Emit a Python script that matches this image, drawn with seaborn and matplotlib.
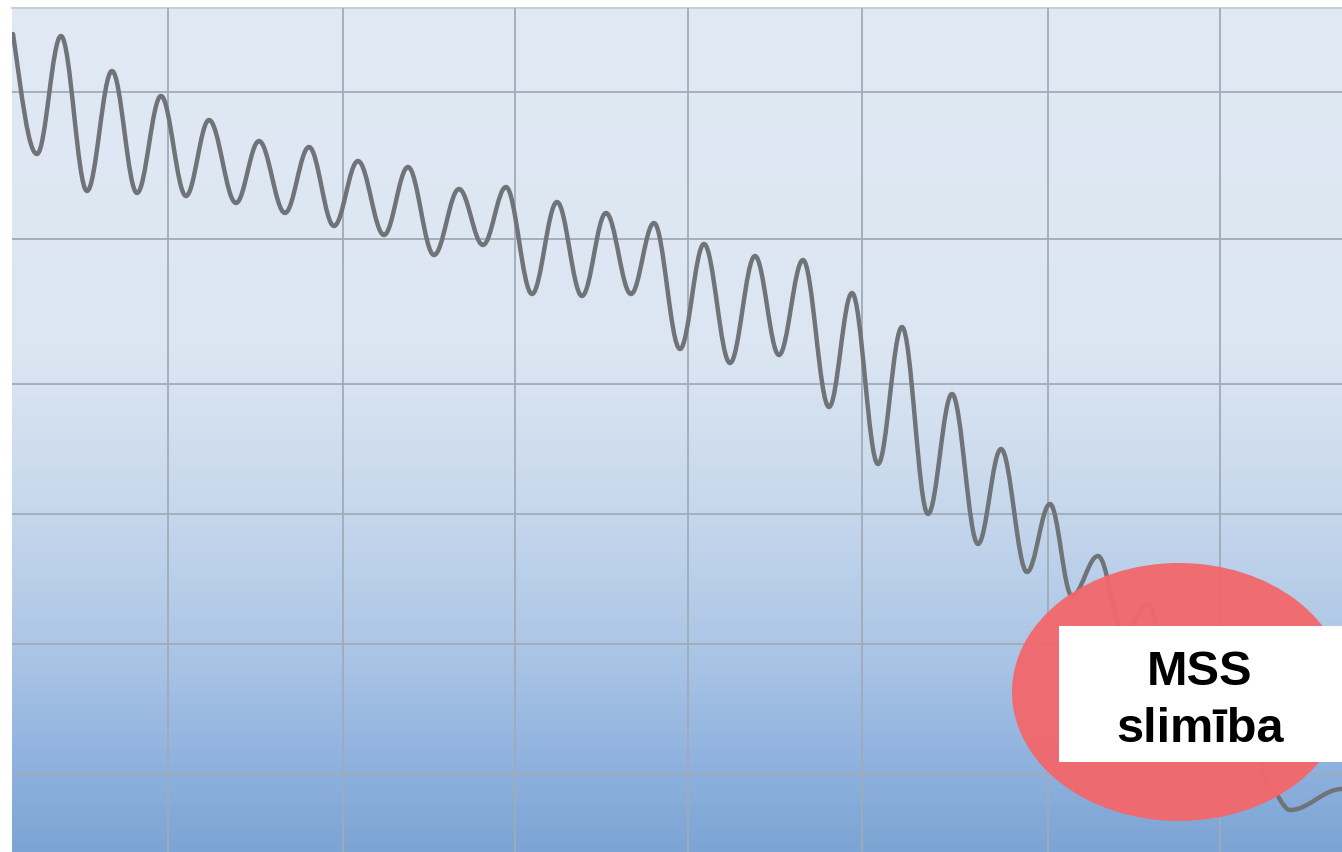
import numpy as np
import matplotlib.pyplot as plt
import seaborn as sns
from matplotlib.colors import LinearSegmentedColormap
from matplotlib.patches import Ellipse, Rectangle, PathPatch
from matplotlib.path import Path

# Peaks and troughs of the oscillating curve (x position, level)
x_pts = [13, 37, 61, 87, 112, 137, 161, 186, 209, 236, 259, 285, 309, 334,
         358, 384, 408, 434, 459, 483, 506, 532, 557, 582, 606, 631, 654,
         680, 704, 730, 755, 779, 803, 829, 852, 878, 902, 928, 952, 978,
         1001, 1027, 1050, 1072, 1098, 1124, 1148, 1174, 1198, 1222, 1246,
         1270, 1290, 1342]
y_pix = [35, 155, 37, 192, 72, 194, 97, 197, 121, 204, 142, 214, 148, 227,
         162, 236, 168, 256, 190, 246, 188, 295, 203, 297, 214, 295, 224,
         350, 245, 364, 257, 356, 261, 408, 294, 465, 328, 515, 395, 545,
         450, 573, 505, 597, 557, 635, 605, 700, 665, 755, 705, 790, 811, 790]
levels = [853 - v for v in y_pix]

# grid positions
x_grid = [168, 343, 515, 688, 862, 1048, 1220]
y_grid = [853 - v for v in [93, 240, 385, 515, 645, 775]]

label_lines = ['MSS', 'slimība']

sns.set_theme(style='whitegrid')
plt.rcParams['font.family'] = ['Liberation Sans', 'DejaVu Sans']

fig = plt.figure(figsize=(13.42, 8.53), dpi=100)
ax = fig.add_axes([12 / 1342, 0, 1 - 12 / 1342, 1 - 9 / 853])

# blue gradient background
cmap = LinearSegmentedColormap.from_list(
    'bg', [(0.0, '#e0e9f4'), (0.40, '#dce6f2'), (0.58, '#c8d9ed'),
           (0.75, '#aec7e6'), (0.89, '#90b3df'), (1.0, '#7ca4d4')])
grad = np.linspace(0, 1, 256).reshape(-1, 1)
ax.imshow(grad, cmap=cmap, aspect='auto', extent=[12, 1342, 0, 844],
          origin='upper', zorder=0)

ax.set_xlim(12, 1342)
ax.set_ylim(0, 844)
ax.set_xticks(x_grid)
ax.set_yticks(y_grid)
ax.set_xticklabels([])
ax.set_yticklabels([])
ax.tick_params(length=0)
ax.grid(True, color='#a1abb8', linewidth=1.3, zorder=1)
ax.set_axisbelow(False)
for side in ['left', 'right', 'bottom']:
    ax.spines[side].set_visible(False)
ax.spines['top'].set_color('#c9cfd6')
ax.spines['top'].set_linewidth(1.5)

# smooth wave through the extrema: cubic segments, flat at each peak/trough
k = 0.364
verts = [(x_pts[0], levels[0])]
codes = [Path.MOVETO]
for i in range(len(x_pts) - 1):
    x0, y0, x1, y1 = x_pts[i], levels[i], x_pts[i + 1], levels[i + 1]
    dx = x1 - x0
    # the curve enters the plot already falling
    c1 = (x0 + k * dx, y0) if i > 0 else (x0 + k * dx, y0 + (y1 - y0) * 0.5)
    verts += [c1, (x1 - k * dx, y1), (x1, y1)]
    codes += [Path.CURVE4] * 3
ax.add_patch(PathPatch(Path(verts, codes), facecolor='none',
                       edgecolor='#707478', linewidth=3.2,
                       capstyle='round', joinstyle='round', zorder=3))
ax.set_xlabel('')
ax.set_ylabel('')

# red highlight with label box
ax.add_patch(Ellipse((1179, 853 - 693), 334, 258, facecolor='#f2686c',
                     edgecolor='none', alpha=0.96, zorder=4))
ax.add_patch(Rectangle((1059, 853 - 763), 290, 136, facecolor='white',
                       edgecolor='none', zorder=5))
ax.text(1200, 853 - 685, label_lines[0], ha='center', va='baseline',
        fontsize=35, fontweight='bold', color='black', zorder=6)
ax.text(1200, 853 - 742, label_lines[1], ha='center', va='baseline',
        fontsize=35, fontweight='bold', color='black', zorder=6)

fig.savefig('out.png', dpi=100)
